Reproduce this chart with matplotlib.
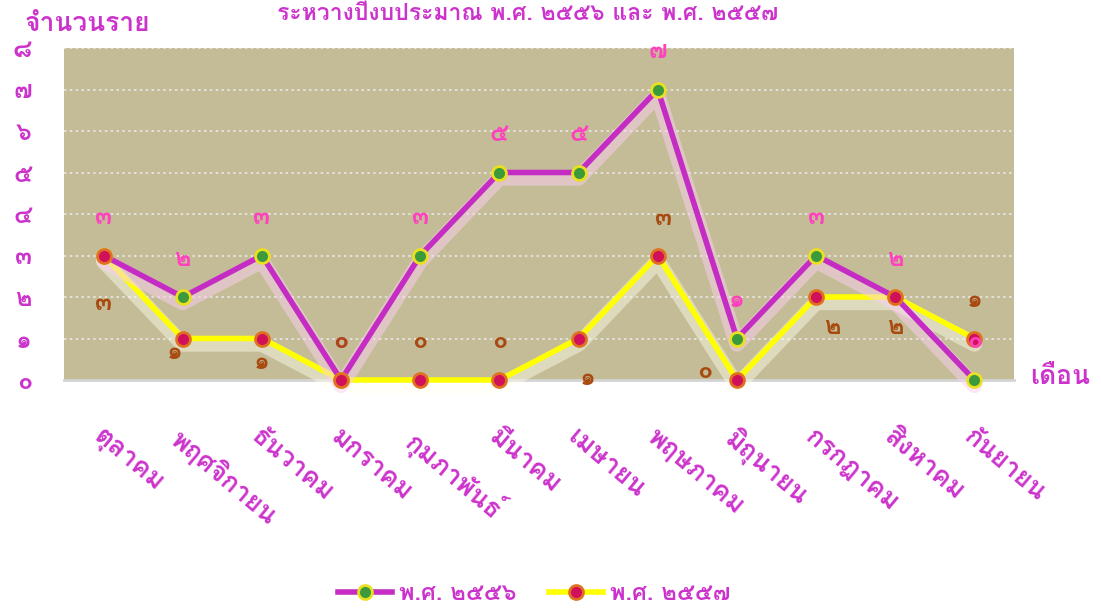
import matplotlib
matplotlib.use("Agg")
import matplotlib.pyplot as plt
import matplotlib.patheffects as pe
from matplotlib import font_manager
from fontTools.ttLib import TTFont


def find_thai_fonts():
    # fonts whose cmap covers Thai letters and digits
    names = []
    for f in font_manager.fontManager.ttflist:
        try:
            tt = TTFont(f.fname, fontNumber=0, lazy=True)
            cmap = tt.getBestCmap()
            if cmap and 0x0E08 in cmap and 0x0E57 in cmap and f.name not in names:
                names.append(f.name)
        except Exception:
            pass
    return names


thai_fonts = find_thai_fonts()
pref = [n for n in ['Loma', 'Tahoma', 'Noto Sans Thai Looped'] if n in thai_fonts]
plt.rcParams['font.family'] = (pref or thai_fonts)[:1] + ['DejaVu Sans']
plt.rcParams['font.weight'] = 'bold'

months = ['ตุลาคม', 'พฤศจิกายน', 'ธันวาคม', 'มกราคม', 'กุมภาพันธ์', 'มีนาคม',
          'เมษายน', 'พฤษภาคม', 'มิถุนายน', 'กรกฎาคม', 'สิงหาคม', 'กันยายน']
y2556 = [3, 2, 3, 0, 3, 5, 5, 7, 1, 3, 2, 0]
y2557 = [3, 1, 1, 0, 0, 0, 1, 3, 0, 2, 2, 1]
thai_digits = '๐๑๒๓๔๕๖๗๘๙'
series_names = ['พ.ศ. ๒๕๕๖', 'พ.ศ. ๒๕๕๗']
title = 'ระหว่างปีงบประมาณ พ.ศ. ๒๕๕๖ และ พ.ศ. ๒๕๕๗'

# label offsets for 2557 (pixels)
off2557 = [(0, -48), (-8, -14), (0, -24), (0, 38), (0, 38), (0, 38),
           (9, -40), (6, 37), (-32, 8), (16, -31), (0, -31), (0, 38)]

magenta = '#cc33cc'
purple = '#c42cc4'
pink = '#ff40c0'
brown = '#a84a10'
bg = '#c4bc96'

fig = plt.figure(figsize=(11.01, 6.08), dpi=100)
ax = fig.add_axes([64 / 1101, 228 / 608, 950 / 1101, 332 / 608])
ax.set_facecolor(bg)
x = list(range(len(months)))
ax.set_xlim(-0.5, 11.5)
ax.set_ylim(0, 8)

for v in range(1, 9):
    ax.axhline(v, color='#e8e8e8', lw=1.2, ls=(0, (1.5, 2)), zorder=1)
ax.axhline(0, color='#d4d4d4', lw=2, zorder=1, clip_on=False)

ax.plot(x, y2557, color='#ffff00', lw=4, zorder=3, clip_on=False,
        solid_capstyle='round', solid_joinstyle='round',
        path_effects=[pe.SimpleLineShadow(offset=(0, -4), shadow_color='#fffff0', alpha=0.45, linewidth=11),
                      pe.Normal()])
ax.plot(x, y2556, color=purple, lw=4, zorder=4, clip_on=False,
        solid_capstyle='round', solid_joinstyle='round',
        path_effects=[pe.SimpleLineShadow(offset=(0, -4), shadow_color='#fad0f4', alpha=0.5, linewidth=11),
                      pe.Normal()])
ax.plot(x, y2556, ls='none', marker='o', ms=10, mfc='#3c9a3c', mec='#e8e020', mew=2,
        zorder=5, clip_on=False)
ax.plot(x, y2557, ls='none', marker='o', ms=10, mfc='#d0105a', mec='#e07020', mew=2,
        zorder=6, clip_on=False)

for i, v in enumerate(y2556):
    ax.annotate(thai_digits[v], (i, v), xytext=(0, 38), textcoords='offset pixels',
                ha='center', va='center', color=pink, fontsize=18, zorder=7)
for i, v in enumerate(y2557):
    ax.annotate(thai_digits[v], (i, v), xytext=off2557[i], textcoords='offset pixels',
                ha='center', va='center', color=brown, fontsize=18, zorder=7)

ax.set_yticks(range(9))
ax.set_yticklabels([thai_digits[v] for v in range(9)], color=magenta, fontsize=18)
ax.set_xticks(x)
ax.set_xticklabels(months, color=magenta, fontsize=19, rotation=-40,
                   ha='left', va='top', rotation_mode='anchor')
ax.tick_params(axis='y', length=0, pad=23)
ax.tick_params(axis='x', length=0, pad=32)
for s in ax.spines.values():
    s.set_visible(False)

fig.text(25 / 1101, 1 - 24 / 608, 'จำนวนราย', color=magenta, fontsize=19,
         ha='left', va='center')
fig.text(1030 / 1101, 1 - 377 / 608, 'เดือน', color=magenta, fontsize=19,
         ha='left', va='center')
fig.text(528 / 1101, 1 - 12 / 608, title, color=magenta, fontsize=16.5,
         ha='center', va='center')

h1 = plt.Line2D([], [], color=purple, lw=4, marker='o', ms=10, mfc='#3c9a3c',
                mec='#e8e020', mew=2)
h2 = plt.Line2D([], [], color='#ffff00', lw=4, marker='o', ms=10, mfc='#d0105a',
                mec='#e07020', mew=2)
leg = fig.legend([h1, h2], series_names, loc='center', bbox_to_anchor=(534 / 1101, 1 - 594 / 608),
                 ncol=2, frameon=False, fontsize=17, handlelength=2.3, columnspacing=1.35,
                 handletextpad=0.3, borderpad=0.1)
for t in leg.get_texts():
    t.set_color(magenta)

fig.savefig('out.png', dpi=100)
